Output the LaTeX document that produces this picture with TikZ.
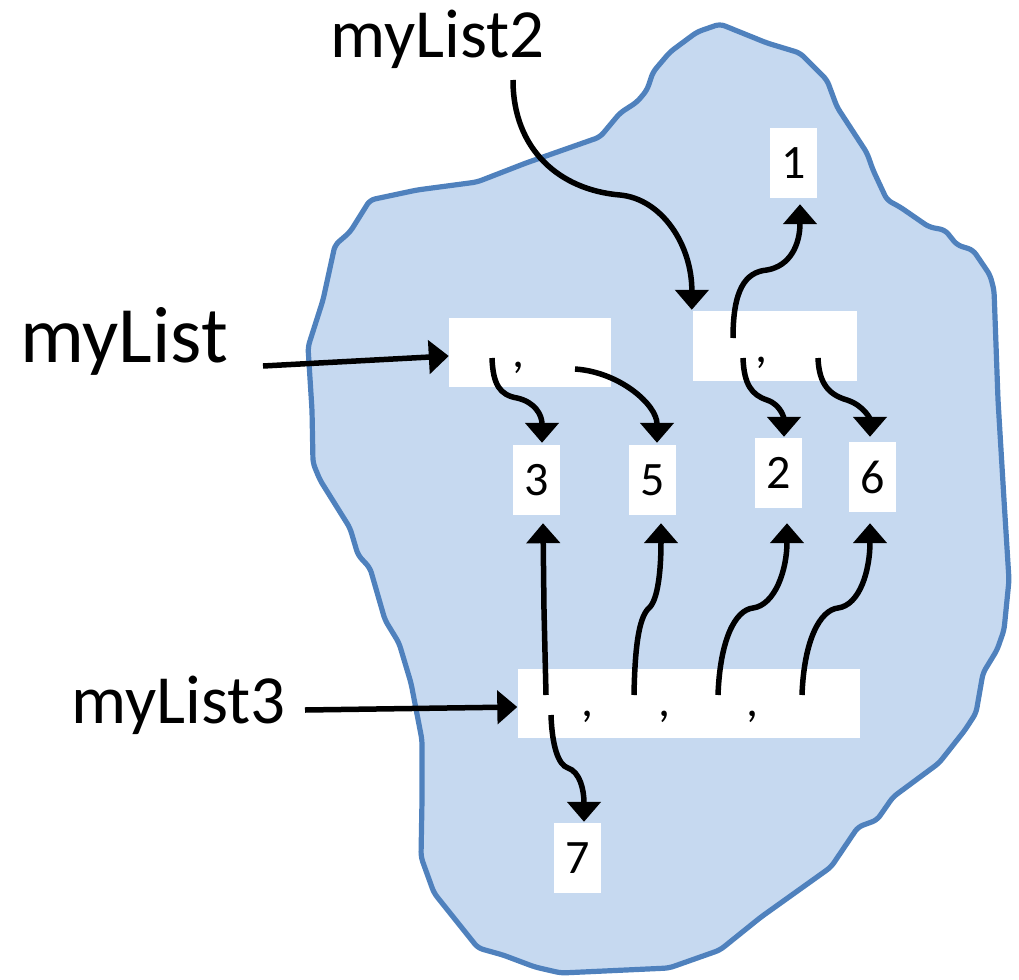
\documentclass[tikz,border=0pt]{standalone}
\usepackage{fontspec}
\setmainfont{Carlito}
\usetikzlibrary{arrows.meta}
\definecolor{blobfill}{RGB}{198,217,240}
\definecolor{blobline}{RGB}{79,129,189}
\newcommand\bigtxt{\fontsize{80}{90}\selectfont}
\newcommand\midtxt{\fontsize{69}{80}\selectfont}
\newcommand\numtxt{\fontsize{48}{54}\selectfont}
\begin{document}
\begin{tikzpicture}[x=1pt,y=-1pt,
  blob/.style={draw=blobline,fill=blobfill,line width=5.2pt,line join=round,rounded corners=5pt},
  valbox/.style={fill=white,inner sep=0pt,minimum width=47pt,minimum height=70pt,font=\numtxt},
  listbox/.style={fill=white,inner sep=0pt,minimum height=69pt},
  commanode/.style={inner sep=0pt,font=\numtxt},
  namelbl/.style={inner sep=0pt,anchor=base west},
  arr/.style={line width=5.5pt,-{Triangle[width=33pt,length=20pt]}}]
\useasboundingbox (0,0) rectangle (1019,979);
% blob
\draw[blob] (720,24) -- (767,43) -- (800,53) -- (827,80) -- (837,107) -- (867,153) -- (873,170)
 -- (887,200) -- (900,207) -- (929,227) -- (945,230) -- (957,245) -- (973,250) -- (990,275)
 -- (994,290) -- (998,400) -- (1004,500) -- (1009,580) -- (1004,630) -- (997,650) -- (983,673)
 -- (976,713) -- (965,730) -- (939,763) -- (893,797) -- (877,820) -- (858,827) -- (831,867)
 -- (789,897) -- (761,917) -- (720,950) -- (669,968) -- (561,973) -- (535,967) -- (503,955)
 -- (478,948) -- (434,893) -- (421,857) -- (422,800) -- (422,740) -- (411,683) -- (399,643)
 -- (385,620) -- (370,568) -- (358,555) -- (350,528) -- (320,480) -- (313,463) -- (312,410)
 -- (308,347) -- (323,300) -- (335,245) -- (350,232) -- (370,200) -- (417,190) -- (477,182)
 -- (526,163) -- (600,137) -- (620,113) -- (637,102) -- (647,90) -- (653,72) -- (670,52)
 -- (697,32) -- cycle;
% labels
\node[namelbl,font=\bigtxt] (lbl1) at (20,362) {myList};
\node[namelbl,font=\midtxt] (lbl2) at (330,58) {myList2};
\node[namelbl,font=\midtxt] (lbl3) at (71,723) {myList3};
% list boxes
\node[listbox,minimum width=162pt] (L1) at (530,352.5) {};
\node[listbox,minimum width=164pt,minimum height=70pt] (L2) at (775,346) {};
\node[listbox,minimum width=342pt] (L3) at (688.5,703.5) {};
\node[commanode] (c1) at (518,368) {,};
\node[commanode] (c2) at (761,363) {,};
\node[commanode] (c3) at (587,717) {,};
\node[commanode] (c4) at (664,717) {,};
\node[commanode] (c5) at (752,717) {,};
% value boxes
\node[valbox] (n1) at (793.5,163) {1};
\node[valbox] (n3) at (536.5,480) {3};
\node[valbox] (n5) at (652.5,480) {5};
\node[valbox] (n2) at (778.5,473) {2};
\node[valbox] (n6) at (872.5,477) {6};
\node[valbox] (n7) at (577.5,858) {7};
% free ends
\coordinate (s1) at (263,366);
\coordinate (s2) at (513,80);
\coordinate (s3) at (305,710);
\coordinate (p1a) at (492,358);
\coordinate (p1b) at (575,369);
\coordinate (p2a) at (733,338);
\coordinate (p2b) at (743,358);
\coordinate (p2c) at (818,358);
\coordinate (p3a) at (546,695);
\coordinate (p3b) at (634,695);
\coordinate (p3c) at (718,695);
\coordinate (p3d) at (802,695);
\coordinate (p3e) at (551,715);
% name arrows
\draw[arr] (s1) -- ([yshift=-3.5pt]L1.west);
\draw[arr] (s3) -- ([yshift=-3.5pt]L3.west);
\draw[arr] (s2) .. controls (513,150) and (560,190) .. (620,195)
  .. controls (662,199) and (692,245) .. ([xshift=-1pt,yshift=1pt]L2.north west);
% myList
\draw[arr] (p1a) .. controls (493,385) and (500,395) .. (517,398)
  .. controls (535,402) and (542,415) .. ([xshift=5.5pt,yshift=2pt]n3.north);
\draw[arr] (p1b) .. controls (620,372) and (657,405) .. ([xshift=4.5pt,yshift=2pt]n5.north);
% myList2
\draw[arr] (p2a) .. controls (733,290) and (745,272) .. (767,270)
  .. controls (790,266) and (800,245) .. ([xshift=6.5pt,yshift=-6pt]n1.south);
\draw[arr] (p2b) .. controls (744,385) and (752,395) .. (767,400)
  .. controls (782,405) and (784,420) .. ([xshift=5.5pt,yshift=1pt]n2.north);
\draw[arr] (p2c) .. controls (819,385) and (830,395) .. (847,400)
  .. controls (865,406) and (870,420) .. ([xshift=-2.5pt,yshift=5pt]n6.north);
% myList3
\draw[arr] (p3a) -- (544,610) -- ([xshift=6.5pt,yshift=-8pt]n3.south);
\draw[arr] (p3b) .. controls (635,640) and (640,615) .. (650,607)
  .. controls (658,598) and (661,570) .. ([xshift=8.5pt,yshift=-8pt]n5.south);
\draw[arr] (p3c) .. controls (720,640) and (735,610) .. (753,608)
  .. controls (775,605) and (787,570) .. ([xshift=8.5pt,yshift=-15pt]n2.south);
\draw[arr] (p3d) .. controls (804,640) and (820,610) .. (838,608)
  .. controls (860,605) and (870,570) .. ([xshift=-2.5pt,yshift=-11pt]n6.south);
\draw[arr] (p3e) .. controls (552,745) and (558,765) .. (568,768)
  .. controls (580,772) and (584,790) .. ([xshift=6.5pt,yshift=1pt]n7.north);
\end{tikzpicture}
\end{document}
